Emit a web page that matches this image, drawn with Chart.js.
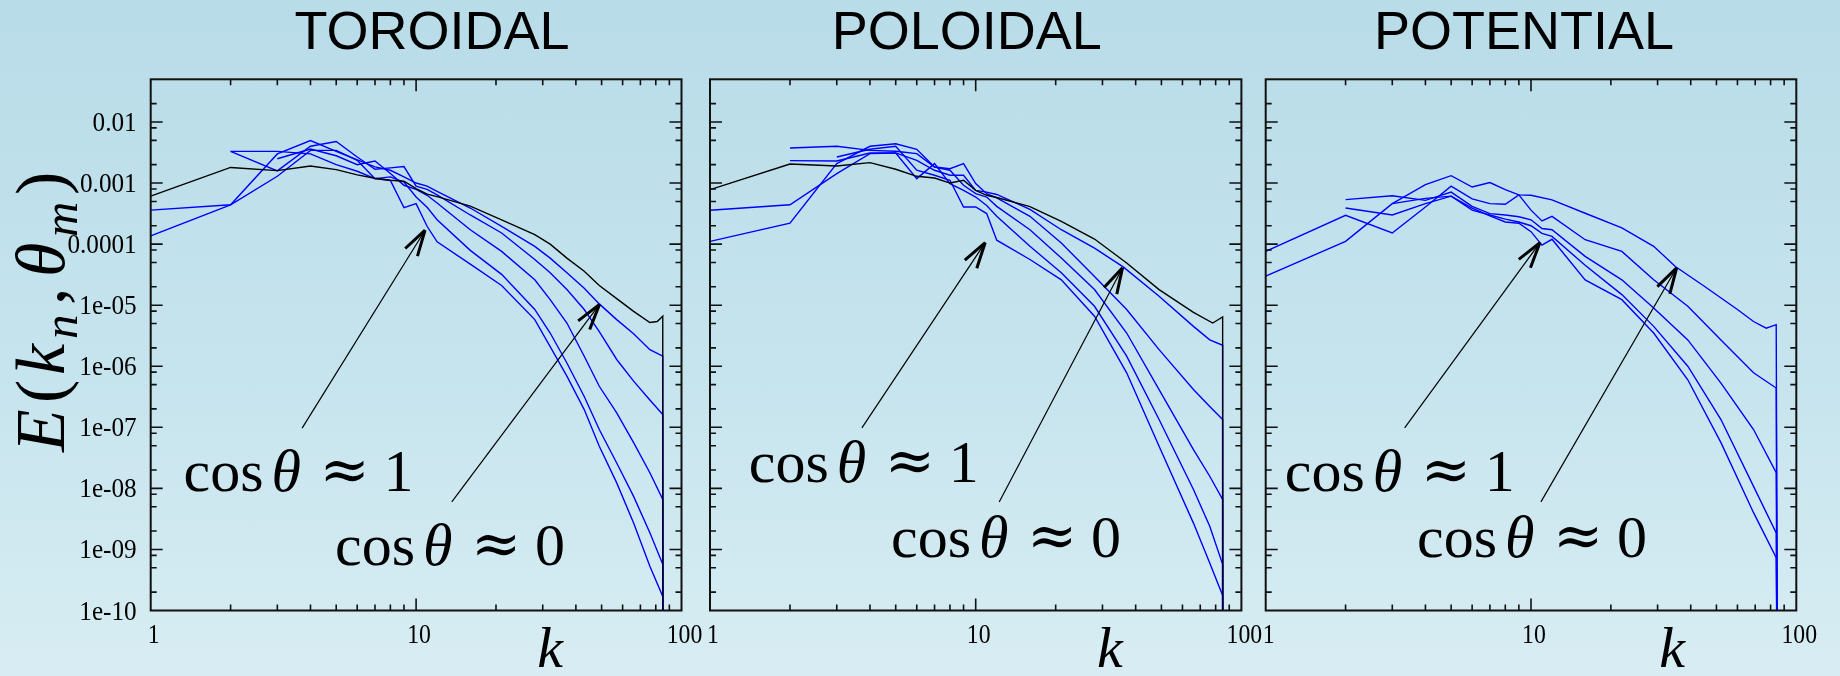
<!DOCTYPE html>
<html><head><meta charset="utf-8">
<script src="https://cdn.jsdelivr.net/npm/chart.js@4.4.1/dist/chart.umd.min.js"></script>
<style>
html,body{margin:0;padding:0;width:1840px;height:676px;overflow:hidden;
background:linear-gradient(to bottom,#b8dce8 0%,#c6e4ee 55%,#d8edf3 100%);}
canvas{position:absolute;top:0;}
</style></head><body>
<canvas id="c1" width="730" height="676" style="left:0px"></canvas>
<canvas id="c2" width="590" height="676" style="left:690px"></canvas>
<canvas id="c3" width="595" height="676" style="left:1245px"></canvas>
<script>
// ---------------- data ----------------
const panelTitles = ['TOROIDAL', 'POLOIDAL', 'POTENTIAL'];
const xTickValues = [1, 10, 100];
const xTickLabels = ['1', '10', '100'];
const yTickValues = [1e-2, 1e-3, 1e-4, 1e-5, 1e-6, 1e-7, 1e-8, 1e-9, 1e-10];
const yTickLabels = ['0.01', '0.001', '0.0001', '1e-05', '1e-06', '1e-07', '1e-08', '1e-09', '1e-10'];

// TOROIDAL
const torBlackK = [1,2,3,4,5,6,7,8,9,10,11,12,16,21,28,32,37,43,49,57,66,76,81,85,85];
const torBlackE = [6.1e-4,1.8e-3,1.6e-3,1.9e-3,1.66e-3,1.36e-3,1.2e-3,1.11e-3,1.07e-3,8.1e-4,6.6e-4,6.0e-4,4.2e-4,2.5e-4,1.43e-4,1.0e-4,5.9e-5,3.6e-5,2.1e-5,1.28e-5,7.9e-6,5.2e-6,5.4e-6,6.6e-6,1e-12];
const torB1K = [1,2,3,4,5,6,7,8,9,10,11,12,16,21,28,32,37,43,49,57,66,76,85,85];
const torB1E = [3.6e-4,4.4e-4,3.0e-3,4.95e-3,3.3e-3,2.4e-3,1.84e-3,1.62e-3,1.26e-3,1.0e-3,8.9e-4,7.3e-4,3.9e-4,1.95e-4,9.2e-5,5.9e-5,3.4e-5,1.9e-5,1.05e-5,5.8e-6,3.4e-6,1.87e-6,1.46e-6,1e-12];
const torB2K = [2,3,4,5,6,7,8,9,10,11,12,16,21,28,32,37,43,49,57,66,76,85,85];
const torB2E = [3.3e-3,1.58e-3,4.0e-3,4.8e-3,2.67e-3,1.68e-3,1.77e-3,1.86e-3,8.9e-4,7.9e-4,6.4e-4,3.0e-4,1.52e-4,5.6e-5,3.4e-5,1.8e-5,8.5e-6,3.7e-6,1.29e-6,5.7e-7,2.8e-7,1.62e-7,1e-12];
const torB3K = [3,4,5,6,7,8,9,10,11,12,16,21,28,32,37,43,49,57,66,76,85,85];
const torB3E = [2.5e-3,3.6e-3,2.8e-3,2.0e-3,2.3e-3,1.43e-3,9.2e-4,7.9e-4,6.3e-4,4.7e-4,1.72e-4,7.6e-5,2.6e-5,1.23e-5,5.1e-6,1.46e-6,4.7e-7,1.72e-7,5.6e-8,1.8e-8,6.6e-9,1e-12];
const torB4K = [1,2,3,4,5,6,7,8,9,10,11,12,16,21,28,32,37,43,49,57,66,76,85,85];
const torB4E = [1.36e-4,4.4e-4,1.29e-3,3.43e-3,3.43e-3,2.36e-3,1.18e-3,1.26e-3,1.04e-3,5.9e-4,4.0e-4,2.5e-4,7.9e-5,3.2e-5,8.5e-6,3.5e-6,1.13e-6,3.2e-7,9.2e-8,2.6e-8,7.4e-9,1.87e-9,5.7e-10,1e-12];
const torB5K = [2,3,4,5,6,7,8,9,10,11,12,16,21,28,32,37,43,49,57,66,76,85,85];
const torB5E = [3.3e-3,3.3e-3,3.0e-3,2.0e-3,1.56e-3,1.18e-3,1.1e-3,3.96e-4,4.6e-4,1.96e-4,1.09e-4,4.7e-5,2.1e-5,5.8e-6,2.1e-6,6.9e-7,1.95e-7,4.9e-8,1.23e-8,2.7e-9,5.3e-10,1.7e-10,1e-12];

// POLOIDAL
const polBlackK = [1,2,3,4,5,6,7,8,9,10,11,12,16,21,28,37,49,66,78,85,85];
const polBlackE = [7.8e-4,2.05e-3,1.9e-3,2.16e-3,1.68e-3,1.29e-3,1.21e-3,1.0e-3,1.11e-3,7.6e-4,6.3e-4,5.8e-4,4.1e-4,2.36e-4,1.21e-4,4.9e-5,1.8e-5,7.6e-6,5.1e-6,6.4e-6,1e-12];
const polB1K = [1,2,3,4,5,6,7,8,9,10,11,12,16,21,28,36,49,66,76,85,85];
const polB1E = [3.58e-4,4.4e-4,1.43e-3,3.03e-3,3.11e-3,2.36e-3,1.62e-3,1.34e-3,1.34e-3,7.6e-4,7.1e-4,6.5e-4,3.7e-4,1.72e-4,8.6e-5,4.2e-5,1.4e-5,4.5e-6,2.7e-6,2.2e-6,1e-12];
const polB2K = [1,2,3,4,5,6,7,8,9,10,11,12,16,21,28,37,49,66,76,85,85];
const polB2E = [1.11e-4,2.2e-4,2.08e-3,4.0e-3,4.4e-3,3.57e-3,1.83e-3,1.72e-3,2.08e-3,9.8e-4,6.7e-4,5.7e-4,2.85e-4,1.04e-4,2.96e-5,8.5e-6,1.87e-6,4.15e-7,2.2e-7,1.34e-7,1e-12];
const polB3K = [2,3,4,5,6,7,8,9,10,11,12,16,21,28,37,49,66,76,85,85];
const polB3E = [3.75e-3,4.0e-3,3.43e-3,3.31e-3,3.03e-3,1.83e-3,1.62e-3,9.2e-4,6.7e-4,5.9e-4,4.15e-4,1.72e-4,5.9e-5,1.8e-5,3.5e-6,4.15e-7,4.3e-8,1.58e-8,6.6e-9,1e-12];
const polB4K = [2,3,4,5,6,7,8,9,10,11,12,16,21,28,37,49,66,76,85,85];
const polB4E = [2.33e-3,2.3e-3,3.11e-3,3.11e-3,1.18e-3,2.08e-3,9.8e-4,7.6e-4,5.9e-4,4.3e-4,2.85e-4,9.2e-5,3.4e-5,9.6e-6,1.46e-6,1.34e-7,9.6e-9,2.4e-9,5.7e-10,1e-12];
const polB5K = [3,4,5,6,7,8,9,10,11,12,16,21,28,37,49,66,76,85,85];
const polB5E = [2.67e-3,3.57e-3,4.0e-3,1.62e-3,1.34e-3,1.11e-3,4.06e-4,4.06e-4,3.16e-4,1.16e-4,5.6e-5,2.6e-5,6.6e-6,7.8e-7,4.9e-8,2.7e-9,6.0e-10,1.76e-10,1e-12];

// POTENTIAL
const potB1K = [1,2,3,4,5,6,7,8,9,10,12,16,22,29,35,45,60,69,77,84,85];
const potB1E = [3.0e-5,1.11e-4,4.6e-4,9.4e-4,1.32e-3,8.6e-4,1.02e-3,7.8e-4,6.4e-4,6.3e-4,5.3e-4,3.2e-4,1.84e-4,9.2e-5,4.3e-5,2.04e-5,8.5e-6,5.4e-6,4.2e-6,4.8e-6,1e-12];
const potB2K = [1,2,3,4,5,6,7,8,9,10,11,12,16,22,29,39,52,69,84,85];
const potB2E = [7.6e-5,2.97e-4,1.52e-4,4.06e-4,8.9e-4,5.5e-4,4.6e-4,4.5e-4,6.4e-4,3.6e-4,2.4e-4,2.85e-4,1.18e-4,7.6e-5,2.6e-5,9.6e-6,2.7e-6,7.8e-7,4.4e-7,1e-12];
const potB3K = [2,3,4,5,6,7,8,9,10,11,12,16,22,29,39,52,69,84,85];
const potB3E = [5.36e-4,6.2e-4,5.2e-4,7.1e-4,4.16e-4,3.16e-4,3.0e-4,2.8e-4,2.5e-4,1.8e-4,1.72e-4,6.3e-5,2.6e-5,9.0e-6,2.7e-6,5.3e-7,9.2e-8,1.8e-8,1e-12];
const potB4K = [2,3,4,5,6,7,8,9,10,11,12,16,22,29,39,52,69,84,85];
const potB4E = [3.9e-4,3.0e-4,4.6e-4,6.1e-4,3.6e-4,3.0e-4,2.56e-4,2.3e-4,2.0e-4,1.5e-4,1.34e-4,4.5e-5,1.49e-5,4.5e-6,1.0e-6,1.34e-7,1.08e-8,1.87e-9,1e-12];
const potB5K = [3,4,5,6,7,8,9,10,11,12,16,22,29,39,52,69,84,85];
const potB5E = [4.6e-4,5.6e-4,6.1e-4,3.9e-4,2.9e-4,2.3e-4,2.2e-4,1.6e-4,9.6e-5,1.2e-4,2.6e-5,1.23e-5,3.5e-6,6.0e-7,5.6e-8,4.0e-9,7.3e-10,1e-12];

// annotation anchors (data coordinates: k, E)
const torArrows = [[3.72, 9.7e-8, 10.81, 1.69e-4], [13.63, 6.0e-9, 49.1, 1.03e-5]];
const polArrows = [[3.73, 9.8e-8, 10.86, 1.06e-4], [12.26, 6.0e-9, 35.7, 4.1e-5]];
const potArrows = [[3.34, 9.8e-8, 10.81, 1.06e-4], [10.9, 6.0e-9, 35.4, 4.1e-5]];
const torNotes = [[1.33, 9.0e-9, '1'], [4.95, 5.5e-10, '0']];
const polNotes = [[1.40, 1.28e-8, '1'], [4.80, 7.6e-10, '0']];
const potNotes = [[1.18, 9.0e-9, '1'], [3.72, 7.6e-10, '0']];

// ---------------- drawing ----------------
const BLUE = '#0000ff';
const BLACK = '#000000';
function pts(K, E) { return K.map((k, i) => ({ x: k, y: E[i] })); }
function ds(K, E, color) {
  return { data: pts(K, E), borderColor: color, borderWidth: 1.4, showLine: true, pointRadius: 0, tension: 0, fill: false };
}

function sText(ctx, txt, x, y, align, sx) {
  ctx.save();
  ctx.translate(x, y);
  ctx.scale(sx, 1);
  ctx.textAlign = align;
  ctx.fillText(txt, 0, 0);
  ctx.restore();
}

function drawArrow(ctx, sx, sy, tx, ty) {
  ctx.save();
  ctx.strokeStyle = '#000';
  ctx.lineWidth = 1.2;
  ctx.beginPath(); ctx.moveTo(sx, sy); ctx.lineTo(tx, ty); ctx.stroke();
  const a = Math.atan2(sy - ty, sx - tx);
  const L = 27, sp = 0.27;
  ctx.lineWidth = 3;
  ctx.beginPath();
  ctx.moveTo(tx, ty); ctx.lineTo(tx + L * Math.cos(a + sp), ty + L * Math.sin(a + sp));
  ctx.moveTo(tx, ty); ctx.lineTo(tx + L * Math.cos(a - sp), ty + L * Math.sin(a - sp));
  ctx.stroke();
  ctx.restore();
}

function drawCos(ctx, x, y, digit) {
  ctx.save();
  ctx.fillStyle = '#000';
  ctx.textBaseline = 'alphabetic';
  ctx.textAlign = 'left';
  ctx.font = '60px "Liberation Serif"';
  ctx.fillText('cos', x, y);
  ctx.font = 'italic 60px "Liberation Serif"';
  ctx.fillText('θ', x + 88, y);
  ctx.font = '60px "DejaVu Serif"';
  ctx.fillText('≈', x + 136, y - 1);
  ctx.font = '60px "Liberation Serif"';
  ctx.fillText(digit, x + 200, y);
  ctx.restore();
}

function makePlugin(cfg) {
  return {
    id: 'deco',
    afterDatasetsDraw(chart) {
      const { ctx, chartArea: a } = chart;
      const x = chart.scales.x, y = chart.scales.y;
      ctx.save();
      // frame
      ctx.strokeStyle = '#111';
      ctx.lineWidth = 2;
      ctx.strokeRect(a.left, a.top, a.right - a.left, a.bottom - a.top);
      // ticks (inward, all sides)
      ctx.lineWidth = 1.6;
      ctx.beginPath();
      for (const d of [1, 10]) {
        for (let m = 1; m <= 9; m++) {
          const v = d * m;
          if (v <= 1 || v >= 100) continue;
          const px = x.getPixelForValue(v);
          const L = (m === 1) ? 12 : 6;
          ctx.moveTo(px, a.bottom); ctx.lineTo(px, a.bottom - L);
          ctx.moveTo(px, a.top); ctx.lineTo(px, a.top + L);
        }
      }
      for (let e = -10; e <= -2; e++) {
        for (const m of [1, 2, 5, 8]) {
          const v = m * Math.pow(10, e);
          if (v <= 1.0001e-10 || v >= 0.0499) continue;
          const py = y.getPixelForValue(v);
          const L = (m === 1) ? 12 : 6;
          ctx.moveTo(a.left, py); ctx.lineTo(a.left + L, py);
          ctx.moveTo(a.right, py); ctx.lineTo(a.right - L, py);
        }
      }
      ctx.stroke();
      // x tick labels
      ctx.fillStyle = '#000';
      ctx.font = '27px "Liberation Serif"';
      ctx.textBaseline = 'alphabetic';
      xTickValues.forEach((v, i) => sText(ctx, xTickLabels[i], x.getPixelForValue(v) + 3, a.bottom + 32, 'center', 0.88));
      // y tick labels
      if (cfg.yLabels) {
        ctx.font = '28px "Liberation Serif"';
        yTickValues.forEach((v, i) => sText(ctx, yTickLabels[i], a.left - 14, y.getPixelForValue(v) + 9, 'right', 0.9));
        // y axis title E(k_n, θ_m)
        ctx.save();
        ctx.translate(64, 312);
        ctx.rotate(-Math.PI / 2);
        const parts = [
          ['E', 'italic 70px "Liberation Serif"', 0, 49],
          ['(', '70px "Liberation Serif"', 0, 28],
          ['k', 'italic 70px "Liberation Serif"', 0, 36],
          ['n', 'italic 49px "Liberation Serif"', 13, 34],
          [',', '70px "Liberation Serif"', 0, 28],
          ['θ', 'italic 70px "Liberation Serif"', 0, 40],
          ['m', 'italic 49px "Liberation Serif"', 13, 42],
          [')', '70px "Liberation Serif"', 0, 23]
        ];
        const total = parts.reduce((s, p) => s + p[3], 0);
        let cx = -total / 2;
        ctx.textAlign = 'left';
        for (const p of parts) {
          ctx.font = p[1];
          ctx.fillText(p[0], cx, p[2]);
          cx += p[3];
        }
        ctx.restore();
      }
      // title
      ctx.font = '54px "Liberation Sans"';
      ctx.textAlign = 'center';
      ctx.fillText(cfg.title, (a.left + a.right) / 2 + cfg.titleDx, 49);
      // axis label k
      ctx.font = 'italic 58px "Liberation Serif"';
      ctx.fillText('k', x.getPixelForValue(cfg.kLabelAt), 667);
      // arrows
      for (const r of cfg.arrows) {
        drawArrow(ctx, x.getPixelForValue(r[0]), y.getPixelForValue(r[1]), x.getPixelForValue(r[2]), y.getPixelForValue(r[3]));
      }
      // notes
      for (const n of cfg.notes) {
        drawCos(ctx, x.getPixelForValue(n[0]), y.getPixelForValue(n[1]), n[2]);
      }
      ctx.restore();
    }
  };
}

function makeChart(id, datasets, pad, cfg) {
  return new Chart(document.getElementById(id), {
    type: 'scatter',
    data: { datasets },
    options: {
      responsive: false, animation: false, events: [],
      layout: { padding: pad },
      plugins: { legend: { display: false }, tooltip: { enabled: false }, title: { display: false } },
      scales: {
        x: { type: 'logarithmic', min: 1, max: 100, display: false },
        y: { type: 'logarithmic', min: 1e-10, max: 0.05, display: false }
      }
    },
    plugins: [makePlugin(cfg)]
  });
}

makeChart('c1', [
  ds(torBlackK, torBlackE, BLACK),
  ds(torB1K, torB1E, BLUE), ds(torB2K, torB2E, BLUE), ds(torB3K, torB3E, BLUE),
  ds(torB4K, torB4E, BLUE), ds(torB5K, torB5E, BLUE)
], { left: 150.7, right: 48.5, top: 79.3, bottom: 65.5 },
  { title: panelTitles[0], titleDx: 16, yLabels: true, kLabelAt: 32, arrows: torArrows, notes: torNotes });

makeChart('c2', [
  ds(polBlackK, polBlackE, BLACK),
  ds(polB1K, polB1E, BLUE), ds(polB2K, polB2E, BLUE), ds(polB3K, polB3E, BLUE),
  ds(polB4K, polB4E, BLUE), ds(polB5K, polB5E, BLUE)
], { left: 20, right: 38.6, top: 79.3, bottom: 65.5 },
  { title: panelTitles[1], titleDx: -9, yLabels: false, kLabelAt: 32, arrows: polArrows, notes: polNotes });

makeChart('c3', [
  ds(potB1K, potB1E, BLUE), ds(potB2K, potB2E, BLUE), ds(potB3K, potB3E, BLUE),
  ds(potB4K, potB4E, BLUE), ds(potB5K, potB5E, BLUE)
], { left: 20.7, right: 43.7, top: 79.3, bottom: 65.5 },
  { title: panelTitles[2], titleDx: -7, yLabels: false, kLabelAt: 34, arrows: potArrows, notes: potNotes });
</script>
</body></html>
